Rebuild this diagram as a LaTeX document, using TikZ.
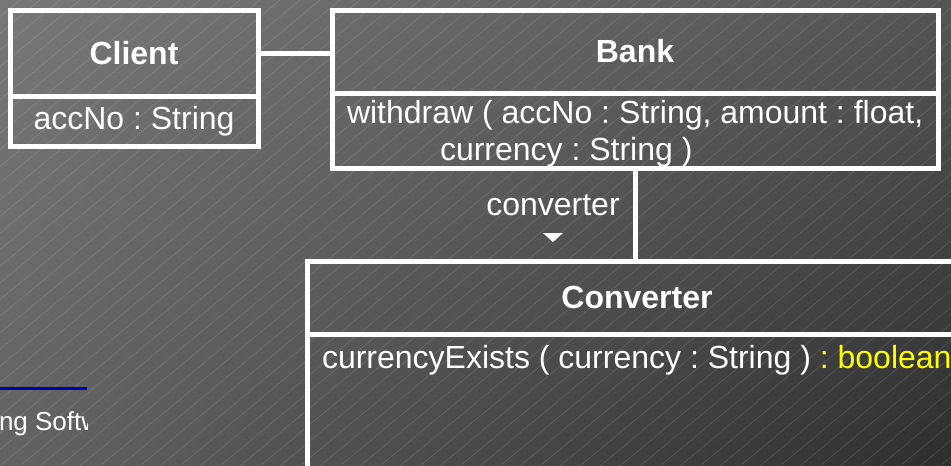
\documentclass[tikz,border=0pt]{standalone}
\usepackage{fontspec}
\setmainfont{Liberation Sans}
\usetikzlibrary{positioning,shadings}
\frenchspacing

\definecolor{fondoSI}{HTML}{787878}
\definecolor{fondoSD}{HTML}{555555}
\definecolor{fondoII}{HTML}{626262}
\definecolor{fondoID}{HTML}{2E2E2E}
\definecolor{amarillo}{HTML}{FFFF00}
\definecolor{azul}{HTML}{0000AA}

\tikzset{
	texto/.style={text=white, font=\fontsize{32}{37}\selectfont, inner sep=0pt, outer sep=0pt},
	caja/.style={texto, draw=white, line width=5pt, rectangle},
	titulo/.style={caja, font=\fontsize{32}{37}\selectfont\bfseries},
	asoc/.style={draw=white, line width=5pt},
	rayado/.style={white, opacity=0.14, line width=0.6pt}
}

\begin{document}
\begin{tikzpicture}[x=1pt, y=-1pt]
	\useasboundingbox (0,0) rectangle (951,466);
	% Fondo
		\shade[upper left=fondoSI, upper right=fondoSD, lower left=fondoII, lower right=fondoID] (0,0) rectangle (951,466);
		\begin{scope}
			\clip (0,0) rectangle (951,466);
			\foreach \i in {-30,...,48}
				\draw[rayado] (\i*20,466) -- ++(560,-466);
		\end{scope}
	% Resto de la diapositiva
		\begin{scope}
			\clip (0,0) rectangle (87,466);
			\draw[azul, line width=3pt] (0,388) -- (87,388);
			\node[texto, anchor=base west, font=\fontsize{26}{30}\selectfont] (pie) at (-1,430) {ng Softw};
		\end{scope}
	% Clases
		\node[titulo, minimum width=248pt, minimum height=86pt] (client) at (134,53) {Client};
		\node[caja, minimum width=248pt, minimum height=50pt, below=0pt of client] (clientattr) {accNo : String};
		\node[titulo, minimum width=606pt, minimum height=83pt] (bank) at (635,51.5) {Bank};
		\node[caja, minimum width=606pt, minimum height=75pt, below=0pt of bank] (bankops) {};
		\node[texto, align=left, anchor=base west] (bankopstxt) at (347,160) {withdraw ( accNo : String, amount : float,\\\hspace*{93pt}currency : String )};
		\node[titulo, minimum width=660pt, minimum height=73pt] (conv) at (637,297.5) {Converter};
		\node[caja, minimum width=660pt, minimum height=170pt, below=0pt of conv] (convops) {};
		\node[texto, anchor=base west] (convopstxt) at (322,368) {currencyExists ( currency : String ) \textcolor{amarillo}{: boolean}};
	% Asociaciones
		\draw[asoc] (client.east) -- (client.east -| bank.west);
		\draw[asoc] (bankops.south) -- (bankops.south |- conv.north);
	% Rol
		\node[texto, anchor=base] (rol) at (553,215) {converter};
		\coordinate (flecha) at (553,233);
		\fill[white] ([xshift=-10pt]flecha) -- ([xshift=10pt]flecha) -- ([yshift=-9pt]flecha) -- cycle;
\end{tikzpicture}
\end{document}
